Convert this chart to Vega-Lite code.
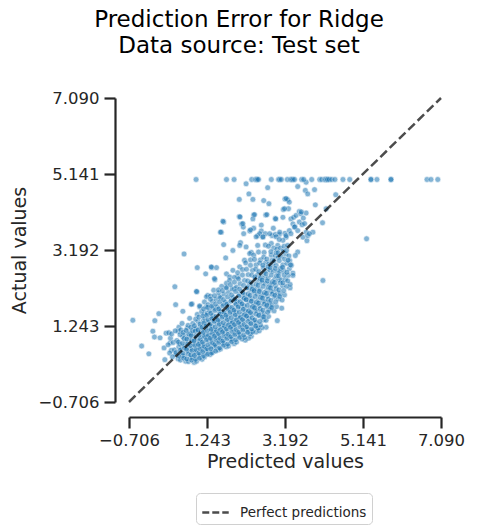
{
  "$schema": "https://vega.github.io/schema/vega-lite/v6.json",
  "description": "Prediction error plot for a Ridge model on the test set: predicted vs actual values with the perfect-prediction diagonal",
  "autosize": "none",
  "padding": {"left": 129, "top": 98, "right": 36, "bottom": 126},
  "width": 312,
  "height": 304,
  "background": "white",
  "title": {
    "text": ["Prediction Error for Ridge", "Data source: Test set"],
    "font": "DejaVu Sans",
    "fontSize": 23,
    "fontWeight": "normal",
    "color": "#000000",
    "anchor": "middle",
    "dx": -46,
    "lineHeight": 26,
    "offset": 32
  },
  "config": {
    "view": {"stroke": null},
    "axis": {
      "grid": false,
      "labelOverlap": false,
      "labelFlush": false,
      "domainColor": "#262626",
      "domainWidth": 2.2,
      "tickColor": "#262626",
      "tickWidth": 2.2,
      "tickSize": 11,
      "labelColor": "#262626",
      "labelFont": "DejaVu Sans",
      "labelFontSize": 16.5,
      "titleColor": "#262626",
      "titleFont": "DejaVu Sans",
      "titleFontSize": 19,
      "titleFontWeight": "normal"
    }
  },
  "layer": [
    {
      "data": {
        "values": [
          {"pred": -0.61, "act": 1.39}, {"pred": -0.39, "act": 0.73}, {"pred": -0.21, "act": 0.53}, {"pred": -0.11, "act": 1.11},
          {"pred": -0.06, "act": 1.38}, {"pred": 0.04, "act": 1.56}, {"pred": -0.07, "act": 0.96}, {"pred": 0.07, "act": 0.94},
          {"pred": 0.22, "act": 1.06}, {"pred": 0.29, "act": 1.07}, {"pred": 0.17, "act": 0.68}, {"pred": 0.32, "act": 0.81},
          {"pred": 0.19, "act": 0.38}, {"pred": 0.35, "act": 0.62}, {"pred": 0.46, "act": 0.51}, {"pred": 0.54, "act": 1.21},
          {"pred": 0.53, "act": 1.11}, {"pred": 0.44, "act": 2.25}, {"pred": 0.46, "act": 1.79}, {"pred": 0.64, "act": 1.62},
          {"pred": 0.67, "act": 3.09}, {"pred": 0.87, "act": 1.81}, {"pred": 0.99, "act": 2.12}, {"pred": 1.00, "act": 2.74},
          {"pred": 1.21, "act": 2.58}, {"pred": 1.26, "act": 2.03}, {"pred": 1.22, "act": 1.73}, {"pred": 1.36, "act": 2.74},
          {"pred": 1.48, "act": 2.74}, {"pred": 1.44, "act": 2.43}, {"pred": 1.73, "act": 2.58}, {"pred": 1.81, "act": 2.50},
          {"pred": 1.71, "act": 2.99}, {"pred": 1.60, "act": 3.65}, {"pred": 1.66, "act": 3.91}, {"pred": 1.66, "act": 3.33},
          {"pred": 2.08, "act": 3.38}, {"pred": 2.05, "act": 4.05}, {"pred": 2.05, "act": 4.49}, {"pred": 2.11, "act": 3.86},
          {"pred": 2.15, "act": 3.78}, {"pred": 2.16, "act": 3.61}, {"pred": 2.31, "act": 3.68}, {"pred": 2.22, "act": 4.89},
          {"pred": 2.29, "act": 4.63}, {"pred": 2.39, "act": 4.49}, {"pred": 2.41, "act": 4.09}, {"pred": 2.41, "act": 3.75},
          {"pred": 2.51, "act": 3.56}, {"pred": 2.60, "act": 3.83}, {"pred": 2.60, "act": 3.68}, {"pred": 2.64, "act": 3.52},
          {"pred": 2.66, "act": 4.46}, {"pred": 2.70, "act": 3.32}, {"pred": 2.70, "act": 3.61}, {"pred": 2.71, "act": 4.09},
          {"pred": 2.76, "act": 4.79}, {"pred": 2.79, "act": 4.38}, {"pred": 2.87, "act": 3.56}, {"pred": 2.90, "act": 3.75},
          {"pred": 2.95, "act": 4.00}, {"pred": 2.95, "act": 3.59}, {"pred": 3.05, "act": 3.59}, {"pred": 3.14, "act": 4.03},
          {"pred": 3.15, "act": 4.23}, {"pred": 3.19, "act": 4.50}, {"pred": 3.26, "act": 4.48}, {"pred": 3.19, "act": 3.62},
          {"pred": 3.22, "act": 3.52}, {"pred": 3.28, "act": 4.25}, {"pred": 3.30, "act": 3.69}, {"pred": 3.34, "act": 3.99},
          {"pred": 3.41, "act": 4.03}, {"pred": 3.39, "act": 3.86}, {"pred": 3.44, "act": 3.79}, {"pred": 3.47, "act": 4.08},
          {"pred": 3.51, "act": 4.82}, {"pred": 3.51, "act": 3.69}, {"pred": 3.55, "act": 3.91}, {"pred": 3.55, "act": 4.18},
          {"pred": 3.59, "act": 4.12}, {"pred": 3.62, "act": 3.84}, {"pred": 3.64, "act": 3.52}, {"pred": 3.65, "act": 4.01},
          {"pred": 3.70, "act": 4.72}, {"pred": 3.72, "act": 4.93}, {"pred": 3.72, "act": 4.14}, {"pred": 3.72, "act": 3.65},
          {"pred": 3.74, "act": 3.43}, {"pred": 3.76, "act": 4.63}, {"pred": 3.76, "act": 3.56}, {"pred": 3.89, "act": 3.65},
          {"pred": 3.93, "act": 4.74}, {"pred": 3.95, "act": 4.35}, {"pred": 4.13, "act": 3.89}, {"pred": 4.22, "act": 4.25},
          {"pred": 4.46, "act": 4.61}, {"pred": 3.30, "act": 2.71}, {"pred": 3.39, "act": 2.60}, {"pred": 3.31, "act": 2.92},
          {"pred": 3.51, "act": 3.14}, {"pred": 3.45, "act": 3.05}, {"pred": 3.32, "act": 2.22}, {"pred": 3.11, "act": 1.70},
          {"pred": 2.66, "act": 1.40}, {"pred": 2.39, "act": 1.13}, {"pred": 2.72, "act": 1.21}, {"pred": 3.00, "act": 1.38},
          {"pred": 2.80, "act": 1.65}, {"pred": 2.76, "act": 1.83}, {"pred": 2.51, "act": 1.19}, {"pred": 5.23, "act": 3.48},
          {"pred": 4.14, "act": 2.41}, {"pred": 3.35, "act": 2.80}, {"pred": 3.39, "act": 2.54},
          {"pred": 2.47, "act": 1.09}, {"pred": 2.55, "act": 1.12}, {"pred": 2.62, "act": 1.20}, {"pred": 2.35, "act": 0.98},
          {"pred": 2.28, "act": 0.93}, {"pred": 2.20, "act": 0.88},

          {"pred": 1.64, "act": 3.93}, {"pred": 2.07, "act": 4.04}, {"pred": 2.14, "act": 3.87}, {"pred": 1.58, "act": 3.65},
          {"pred": 2.39, "act": 3.99}, {"pred": 2.43, "act": 4.10}, {"pred": 2.33, "act": 3.71}, {"pred": 2.74, "act": 4.10},
          {"pred": 2.96, "act": 3.99}, {"pred": 2.56, "act": 3.61}, {"pred": 2.47, "act": 3.53}, {"pred": 2.64, "act": 3.53},
          {"pred": 2.81, "act": 3.61}, {"pred": 2.97, "act": 3.53}, {"pred": 3.06, "act": 3.65}, {"pred": 3.18, "act": 4.25},
          {"pred": 3.30, "act": 4.42}, {"pred": 3.22, "act": 4.51}, {"pred": 1.89, "act": 3.18}, {"pred": 2.06, "act": 3.31},
          {"pred": 2.22, "act": 3.27}, {"pred": 2.35, "act": 3.13}, {"pred": 2.51, "act": 3.31}, {"pred": 2.85, "act": 3.36},
          {"pred": 3.01, "act": 3.31}, {"pred": 3.14, "act": 3.44}, {"pred": 3.43, "act": 3.78}, {"pred": 3.60, "act": 4.17},
          {"pred": 3.68, "act": 3.87}, {"pred": 3.80, "act": 3.61},
          {"pred": 0.98, "act": 2.13}, {"pred": 1.35, "act": 2.76}, {"pred": 1.43, "act": 2.46}, {"pred": 0.85, "act": 1.80},
          {"pred": 1.06, "act": 1.73}, {"pred": 1.18, "act": 1.56}, {"pred": 1.39, "act": 1.73}, {"pred": 1.56, "act": 1.99},
          {"pred": 1.72, "act": 2.24}, {"pred": 1.93, "act": 2.20}, {"pred": 2.01, "act": 2.50}, {"pred": 1.89, "act": 2.67},
          {"pred": 2.06, "act": 2.76}, {"pred": 2.18, "act": 2.93}, {"pred": 2.31, "act": 3.10}, {"pred": 1.23, "act": 1.99},

          {"pred": 0.97, "act": 5.00}, {"pred": 1.73, "act": 5.00}, {"pred": 1.92, "act": 5.00}, {"pred": 2.36, "act": 5.00},
          {"pred": 2.45, "act": 5.00}, {"pred": 2.48, "act": 5.00}, {"pred": 2.50, "act": 5.00}, {"pred": 2.53, "act": 5.00},
          {"pred": 2.85, "act": 5.00}, {"pred": 3.03, "act": 5.00}, {"pred": 3.06, "act": 5.00}, {"pred": 3.10, "act": 5.00},
          {"pred": 3.25, "act": 5.00}, {"pred": 3.33, "act": 5.00}, {"pred": 3.36, "act": 5.00}, {"pred": 3.39, "act": 5.00},
          {"pred": 3.43, "act": 5.00}, {"pred": 3.61, "act": 5.00}, {"pred": 3.66, "act": 5.00}, {"pred": 3.86, "act": 5.00},
          {"pred": 4.06, "act": 5.00}, {"pred": 4.11, "act": 5.00}, {"pred": 4.18, "act": 5.00}, {"pred": 4.20, "act": 5.00},
          {"pred": 4.22, "act": 5.00}, {"pred": 4.25, "act": 5.00}, {"pred": 4.26, "act": 5.00}, {"pred": 4.30, "act": 5.00},
          {"pred": 4.36, "act": 5.00}, {"pred": 4.44, "act": 5.00}, {"pred": 4.64, "act": 5.00}, {"pred": 4.81, "act": 5.00},
          {"pred": 5.34, "act": 5.00}, {"pred": 5.34, "act": 5.00}, {"pred": 5.49, "act": 5.00}, {"pred": 5.84, "act": 5.00},
          {"pred": 5.84, "act": 5.00}, {"pred": 6.74, "act": 5.00}, {"pred": 6.84, "act": 5.00}, {"pred": 7.01, "act": 5.00},

          {"pred": 0.31, "act": 0.55}, {"pred": 0.27, "act": 0.76}, {"pred": 0.33, "act": 0.93},
          {"pred": 0.38, "act": 0.45}, {"pred": 0.43, "act": 0.63}, {"pred": 0.40, "act": 0.82}, {"pred": 0.36, "act": 1.04},
          {"pred": 0.52, "act": 0.40}, {"pred": 0.47, "act": 0.56}, {"pred": 0.54, "act": 0.71}, {"pred": 0.49, "act": 0.87}, {"pred": 0.45, "act": 1.12},
          {"pred": 0.58, "act": 0.37}, {"pred": 0.63, "act": 0.49}, {"pred": 0.61, "act": 0.66}, {"pred": 0.56, "act": 0.78}, {"pred": 0.64, "act": 0.96}, {"pred": 0.59, "act": 1.14}, {"pred": 0.62, "act": 1.31},
          {"pred": 0.71, "act": 0.34}, {"pred": 0.67, "act": 0.47}, {"pred": 0.74, "act": 0.61}, {"pred": 0.69, "act": 0.73}, {"pred": 0.72, "act": 0.86}, {"pred": 0.66, "act": 1.01}, {"pred": 0.75, "act": 1.19},
          {"pred": 0.78, "act": 0.33}, {"pred": 0.83, "act": 0.44}, {"pred": 0.80, "act": 0.59}, {"pred": 0.76, "act": 0.70}, {"pred": 0.84, "act": 0.83}, {"pred": 0.79, "act": 0.96}, {"pred": 0.82, "act": 1.07}, {"pred": 0.77, "act": 1.26}, {"pred": 0.81, "act": 1.44},
          {"pred": 0.92, "act": 0.31}, {"pred": 0.88, "act": 0.43}, {"pred": 0.94, "act": 0.54}, {"pred": 0.87, "act": 0.67}, {"pred": 0.91, "act": 0.79}, {"pred": 0.95, "act": 0.90}, {"pred": 0.86, "act": 1.03}, {"pred": 0.93, "act": 1.16}, {"pred": 0.89, "act": 1.31},
          {"pred": 0.98, "act": 0.34}, {"pred": 1.03, "act": 0.47}, {"pred": 0.96, "act": 0.59}, {"pred": 1.01, "act": 0.70}, {"pred": 1.05, "act": 0.81}, {"pred": 0.99, "act": 0.94}, {"pred": 1.04, "act": 1.06}, {"pred": 0.97, "act": 1.17}, {"pred": 1.02, "act": 1.36}, {"pred": 1.00, "act": 1.54},
          {"pred": 1.12, "act": 0.39}, {"pred": 1.07, "act": 0.52}, {"pred": 1.13, "act": 0.64}, {"pred": 1.09, "act": 0.74}, {"pred": 1.06, "act": 0.87}, {"pred": 1.14, "act": 0.97}, {"pred": 1.10, "act": 1.11}, {"pred": 1.08, "act": 1.23}, {"pred": 1.15, "act": 1.37}, {"pred": 1.11, "act": 1.61}, {"pred": 1.06, "act": 1.76},
          {"pred": 1.18, "act": 0.45}, {"pred": 1.23, "act": 0.56}, {"pred": 1.20, "act": 0.69}, {"pred": 1.16, "act": 0.79}, {"pred": 1.24, "act": 0.93}, {"pred": 1.21, "act": 1.03}, {"pred": 1.17, "act": 1.16}, {"pred": 1.22, "act": 1.27}, {"pred": 1.19, "act": 1.43}, {"pred": 1.25, "act": 1.57}, {"pred": 1.18, "act": 1.86},
          {"pred": 1.32, "act": 0.51}, {"pred": 1.27, "act": 0.63}, {"pred": 1.33, "act": 0.72}, {"pred": 1.29, "act": 0.86}, {"pred": 1.26, "act": 0.96}, {"pred": 1.34, "act": 1.09}, {"pred": 1.30, "act": 1.19}, {"pred": 1.28, "act": 1.34}, {"pred": 1.35, "act": 1.46}, {"pred": 1.31, "act": 1.63}, {"pred": 1.27, "act": 1.79}, {"pred": 1.33, "act": 2.01},
          {"pred": 1.38, "act": 0.57}, {"pred": 1.43, "act": 0.69}, {"pred": 1.40, "act": 0.79}, {"pred": 1.36, "act": 0.91}, {"pred": 1.44, "act": 1.01}, {"pred": 1.41, "act": 1.14}, {"pred": 1.37, "act": 1.24}, {"pred": 1.42, "act": 1.39}, {"pred": 1.39, "act": 1.51}, {"pred": 1.45, "act": 1.69}, {"pred": 1.38, "act": 1.87}, {"pred": 1.41, "act": 2.16},
          {"pred": 1.52, "act": 0.63}, {"pred": 1.47, "act": 0.72}, {"pred": 1.53, "act": 0.86}, {"pred": 1.49, "act": 0.95}, {"pred": 1.46, "act": 1.09}, {"pred": 1.54, "act": 1.18}, {"pred": 1.50, "act": 1.32}, {"pred": 1.48, "act": 1.43}, {"pred": 1.55, "act": 1.59}, {"pred": 1.51, "act": 1.73}, {"pred": 1.47, "act": 1.93}, {"pred": 1.53, "act": 2.09},
          {"pred": 1.58, "act": 0.65}, {"pred": 1.63, "act": 0.79}, {"pred": 1.60, "act": 0.89}, {"pred": 1.56, "act": 1.02}, {"pred": 1.64, "act": 1.12}, {"pred": 1.61, "act": 1.26}, {"pred": 1.57, "act": 1.36}, {"pred": 1.62, "act": 1.51}, {"pred": 1.59, "act": 1.63}, {"pred": 1.65, "act": 1.81}, {"pred": 1.58, "act": 1.97}, {"pred": 1.61, "act": 2.26},
          {"pred": 1.72, "act": 0.71}, {"pred": 1.67, "act": 0.81}, {"pred": 1.73, "act": 0.96}, {"pred": 1.69, "act": 1.06}, {"pred": 1.66, "act": 1.20}, {"pred": 1.74, "act": 1.30}, {"pred": 1.70, "act": 1.44}, {"pred": 1.68, "act": 1.55}, {"pred": 1.75, "act": 1.71}, {"pred": 1.71, "act": 1.85}, {"pred": 1.67, "act": 2.06}, {"pred": 1.73, "act": 2.34},
          {"pred": 1.78, "act": 0.73}, {"pred": 1.83, "act": 0.88}, {"pred": 1.80, "act": 0.99}, {"pred": 1.76, "act": 1.13}, {"pred": 1.84, "act": 1.23}, {"pred": 1.81, "act": 1.37}, {"pred": 1.77, "act": 1.48}, {"pred": 1.82, "act": 1.63}, {"pred": 1.79, "act": 1.75}, {"pred": 1.85, "act": 1.93}, {"pred": 1.78, "act": 2.11}, {"pred": 1.81, "act": 2.41},
          {"pred": 1.92, "act": 0.79}, {"pred": 1.87, "act": 0.91}, {"pred": 1.93, "act": 1.06}, {"pred": 1.89, "act": 1.17}, {"pred": 1.86, "act": 1.31}, {"pred": 1.94, "act": 1.41}, {"pred": 1.90, "act": 1.56}, {"pred": 1.88, "act": 1.67}, {"pred": 1.95, "act": 1.83}, {"pred": 1.91, "act": 1.97}, {"pred": 1.87, "act": 2.19}, {"pred": 1.93, "act": 2.49},
          {"pred": 1.98, "act": 0.83}, {"pred": 2.03, "act": 0.99}, {"pred": 2.00, "act": 1.10}, {"pred": 1.96, "act": 1.25}, {"pred": 2.04, "act": 1.35}, {"pred": 2.01, "act": 1.50}, {"pred": 1.97, "act": 1.61}, {"pred": 2.02, "act": 1.76}, {"pred": 1.99, "act": 1.88}, {"pred": 2.05, "act": 2.06}, {"pred": 1.98, "act": 2.24}, {"pred": 2.01, "act": 2.61},
          {"pred": 2.12, "act": 0.91}, {"pred": 2.07, "act": 1.03}, {"pred": 2.13, "act": 1.18}, {"pred": 2.09, "act": 1.29}, {"pred": 2.06, "act": 1.44}, {"pred": 2.14, "act": 1.55}, {"pred": 2.10, "act": 1.70}, {"pred": 2.08, "act": 1.82}, {"pred": 2.15, "act": 1.98}, {"pred": 2.11, "act": 2.12}, {"pred": 2.07, "act": 2.33}, {"pred": 2.13, "act": 2.69},
          {"pred": 2.18, "act": 0.95}, {"pred": 2.23, "act": 1.11}, {"pred": 2.20, "act": 1.23}, {"pred": 2.16, "act": 1.38}, {"pred": 2.24, "act": 1.49}, {"pred": 2.21, "act": 1.64}, {"pred": 2.17, "act": 1.76}, {"pred": 2.22, "act": 1.92}, {"pred": 2.19, "act": 2.04}, {"pred": 2.25, "act": 2.23}, {"pred": 2.18, "act": 2.41}, {"pred": 2.21, "act": 2.86},
          {"pred": 2.32, "act": 1.04}, {"pred": 2.27, "act": 1.16}, {"pred": 2.33, "act": 1.32}, {"pred": 2.29, "act": 1.44}, {"pred": 2.26, "act": 1.59}, {"pred": 2.34, "act": 1.71}, {"pred": 2.30, "act": 1.87}, {"pred": 2.28, "act": 1.99}, {"pred": 2.35, "act": 2.16}, {"pred": 2.31, "act": 2.31}, {"pred": 2.27, "act": 2.56}, {"pred": 2.33, "act": 2.94},
          {"pred": 2.38, "act": 1.09}, {"pred": 2.43, "act": 1.26}, {"pred": 2.40, "act": 1.39}, {"pred": 2.36, "act": 1.55}, {"pred": 2.44, "act": 1.66}, {"pred": 2.41, "act": 1.82}, {"pred": 2.37, "act": 1.94}, {"pred": 2.42, "act": 2.11}, {"pred": 2.39, "act": 2.25}, {"pred": 2.45, "act": 2.45}, {"pred": 2.38, "act": 2.67}, {"pred": 2.41, "act": 3.06},
          {"pred": 2.52, "act": 1.19}, {"pred": 2.47, "act": 1.33}, {"pred": 2.53, "act": 1.51}, {"pred": 2.49, "act": 1.63}, {"pred": 2.46, "act": 1.79}, {"pred": 2.54, "act": 1.91}, {"pred": 2.50, "act": 2.07}, {"pred": 2.48, "act": 2.20}, {"pred": 2.55, "act": 2.39}, {"pred": 2.51, "act": 2.56}, {"pred": 2.47, "act": 2.81}, {"pred": 2.53, "act": 3.14},
          {"pred": 2.58, "act": 1.27}, {"pred": 2.63, "act": 1.46}, {"pred": 2.60, "act": 1.60}, {"pred": 2.56, "act": 1.76}, {"pred": 2.64, "act": 1.89}, {"pred": 2.61, "act": 2.05}, {"pred": 2.57, "act": 2.18}, {"pred": 2.62, "act": 2.36}, {"pred": 2.59, "act": 2.51}, {"pred": 2.65, "act": 2.73}, {"pred": 2.58, "act": 2.94},
          {"pred": 2.72, "act": 1.39}, {"pred": 2.67, "act": 1.55}, {"pred": 2.73, "act": 1.73}, {"pred": 2.69, "act": 1.86}, {"pred": 2.66, "act": 2.03}, {"pred": 2.74, "act": 2.16}, {"pred": 2.70, "act": 2.34}, {"pred": 2.68, "act": 2.49}, {"pred": 2.75, "act": 2.69}, {"pred": 2.71, "act": 2.87}, {"pred": 2.67, "act": 3.13},
          {"pred": 2.78, "act": 1.49}, {"pred": 2.83, "act": 1.69}, {"pred": 2.80, "act": 1.83}, {"pred": 2.76, "act": 2.01}, {"pred": 2.84, "act": 2.14}, {"pred": 2.81, "act": 2.32}, {"pred": 2.77, "act": 2.47}, {"pred": 2.82, "act": 2.67}, {"pred": 2.79, "act": 2.84}, {"pred": 2.85, "act": 3.06}, {"pred": 2.78, "act": 3.29},
          {"pred": 2.92, "act": 1.63}, {"pred": 2.87, "act": 1.79}, {"pred": 2.93, "act": 1.98}, {"pred": 2.89, "act": 2.12}, {"pred": 2.86, "act": 2.30}, {"pred": 2.94, "act": 2.45}, {"pred": 2.90, "act": 2.65}, {"pred": 2.88, "act": 2.82}, {"pred": 2.95, "act": 3.04}, {"pred": 2.91, "act": 3.24},
          {"pred": 2.98, "act": 1.74}, {"pred": 3.03, "act": 1.94}, {"pred": 3.00, "act": 2.09}, {"pred": 2.96, "act": 2.28}, {"pred": 3.04, "act": 2.43}, {"pred": 3.01, "act": 2.63}, {"pred": 2.97, "act": 2.80}, {"pred": 3.02, "act": 3.01}, {"pred": 2.99, "act": 3.21}, {"pred": 3.05, "act": 3.46},
          {"pred": 3.12, "act": 1.91}, {"pred": 3.07, "act": 2.07}, {"pred": 3.13, "act": 2.27}, {"pred": 3.09, "act": 2.43}, {"pred": 3.06, "act": 2.63}, {"pred": 3.14, "act": 2.81}, {"pred": 3.10, "act": 3.03}, {"pred": 3.08, "act": 3.24},
          {"pred": 3.18, "act": 2.04}, {"pred": 3.23, "act": 2.26}, {"pred": 3.20, "act": 2.44}, {"pred": 3.16, "act": 2.66}, {"pred": 3.24, "act": 2.85}, {"pred": 3.21, "act": 3.09}, {"pred": 3.17, "act": 3.29}, {"pred": 3.22, "act": 3.56},
          {"pred": 3.32, "act": 2.31}, {"pred": 3.27, "act": 2.54}, {"pred": 3.33, "act": 2.81}, {"pred": 3.29, "act": 3.04}, {"pred": 3.26, "act": 3.31}, {"pred": 3.34, "act": 3.61},

          {"pred": 0.55, "act": 0.47}, {"pred": 0.57, "act": 0.62}, {"pred": 0.53, "act": 0.83}, {"pred": 0.57, "act": 1.02},
          {"pred": 0.66, "act": 0.42}, {"pred": 0.64, "act": 0.55}, {"pred": 0.68, "act": 0.68}, {"pred": 0.63, "act": 0.80}, {"pred": 0.67, "act": 0.92}, {"pred": 0.65, "act": 1.08},
          {"pred": 0.74, "act": 0.40}, {"pred": 0.77, "act": 0.53}, {"pred": 0.73, "act": 0.65}, {"pred": 0.76, "act": 0.78}, {"pred": 0.74, "act": 0.91}, {"pred": 0.78, "act": 1.04}, {"pred": 0.72, "act": 1.13},
          {"pred": 0.86, "act": 0.37}, {"pred": 0.84, "act": 0.50}, {"pred": 0.87, "act": 0.62}, {"pred": 0.83, "act": 0.74}, {"pred": 0.86, "act": 0.88}, {"pred": 0.85, "act": 1.00}, {"pred": 0.88, "act": 1.12}, {"pred": 0.84, "act": 1.21},
          {"pred": 0.96, "act": 0.39}, {"pred": 0.93, "act": 0.49}, {"pred": 0.97, "act": 0.64}, {"pred": 0.94, "act": 0.75}, {"pred": 0.92, "act": 0.86}, {"pred": 0.97, "act": 0.99}, {"pred": 0.95, "act": 1.11}, {"pred": 0.93, "act": 1.25}, {"pred": 0.96, "act": 1.42},
          {"pred": 1.06, "act": 0.42}, {"pred": 1.04, "act": 0.55}, {"pred": 1.07, "act": 0.66}, {"pred": 1.03, "act": 0.77}, {"pred": 1.08, "act": 0.91}, {"pred": 1.05, "act": 1.01}, {"pred": 1.02, "act": 1.14}, {"pred": 1.07, "act": 1.29}, {"pred": 1.04, "act": 1.47},
          {"pred": 1.16, "act": 0.48}, {"pred": 1.14, "act": 0.59}, {"pred": 1.17, "act": 0.72}, {"pred": 1.13, "act": 0.83}, {"pred": 1.18, "act": 0.98}, {"pred": 1.15, "act": 1.08}, {"pred": 1.12, "act": 1.21}, {"pred": 1.17, "act": 1.32}, {"pred": 1.14, "act": 1.50}, {"pred": 1.16, "act": 1.68},
          {"pred": 1.26, "act": 0.52}, {"pred": 1.24, "act": 0.66}, {"pred": 1.27, "act": 0.76}, {"pred": 1.23, "act": 0.89}, {"pred": 1.28, "act": 1.01}, {"pred": 1.25, "act": 1.13}, {"pred": 1.22, "act": 1.24}, {"pred": 1.27, "act": 1.40}, {"pred": 1.24, "act": 1.52}, {"pred": 1.26, "act": 1.72},
          {"pred": 1.36, "act": 0.55}, {"pred": 1.34, "act": 0.66}, {"pred": 1.37, "act": 0.82}, {"pred": 1.33, "act": 0.93}, {"pred": 1.38, "act": 1.05}, {"pred": 1.35, "act": 1.16}, {"pred": 1.32, "act": 1.29}, {"pred": 1.37, "act": 1.43}, {"pred": 1.34, "act": 1.57}, {"pred": 1.36, "act": 1.75}, {"pred": 1.33, "act": 1.93},
          {"pred": 1.46, "act": 0.60}, {"pred": 1.44, "act": 0.77}, {"pred": 1.47, "act": 0.89}, {"pred": 1.43, "act": 0.98}, {"pred": 1.48, "act": 1.12}, {"pred": 1.45, "act": 1.22}, {"pred": 1.42, "act": 1.36}, {"pred": 1.47, "act": 1.49}, {"pred": 1.44, "act": 1.64}, {"pred": 1.46, "act": 1.81}, {"pred": 1.43, "act": 2.02},
          {"pred": 1.56, "act": 0.68}, {"pred": 1.54, "act": 0.82}, {"pred": 1.57, "act": 0.93}, {"pred": 1.53, "act": 1.05}, {"pred": 1.58, "act": 1.15}, {"pred": 1.55, "act": 1.29}, {"pred": 1.52, "act": 1.40}, {"pred": 1.57, "act": 1.55}, {"pred": 1.54, "act": 1.68}, {"pred": 1.56, "act": 1.86}, {"pred": 1.53, "act": 2.17},
          {"pred": 1.66, "act": 0.75}, {"pred": 1.64, "act": 0.86}, {"pred": 1.67, "act": 0.99}, {"pred": 1.63, "act": 1.09}, {"pred": 1.68, "act": 1.24}, {"pred": 1.65, "act": 1.33}, {"pred": 1.62, "act": 1.47}, {"pred": 1.67, "act": 1.60}, {"pred": 1.64, "act": 1.76}, {"pred": 1.66, "act": 1.92}, {"pred": 1.63, "act": 2.15},
          {"pred": 1.76, "act": 0.78}, {"pred": 1.74, "act": 0.92}, {"pred": 1.77, "act": 1.03}, {"pred": 1.73, "act": 1.17}, {"pred": 1.78, "act": 1.27}, {"pred": 1.75, "act": 1.41}, {"pred": 1.72, "act": 1.52}, {"pred": 1.77, "act": 1.67}, {"pred": 1.74, "act": 1.80}, {"pred": 1.76, "act": 1.99}, {"pred": 1.73, "act": 2.22},
          {"pred": 1.86, "act": 0.84}, {"pred": 1.84, "act": 0.97}, {"pred": 1.87, "act": 1.10}, {"pred": 1.83, "act": 1.21}, {"pred": 1.88, "act": 1.34}, {"pred": 1.85, "act": 1.46}, {"pred": 1.82, "act": 1.59}, {"pred": 1.87, "act": 1.72}, {"pred": 1.84, "act": 1.88}, {"pred": 1.86, "act": 2.04}, {"pred": 1.83, "act": 2.30},
          {"pred": 1.96, "act": 0.89}, {"pred": 1.94, "act": 1.02}, {"pred": 1.97, "act": 1.15}, {"pred": 1.93, "act": 1.28}, {"pred": 1.98, "act": 1.40}, {"pred": 1.95, "act": 1.53}, {"pred": 1.92, "act": 1.65}, {"pred": 1.97, "act": 1.80}, {"pred": 1.94, "act": 1.93}, {"pred": 1.96, "act": 2.13}, {"pred": 1.93, "act": 2.37},
          {"pred": 2.06, "act": 0.95}, {"pred": 2.04, "act": 1.08}, {"pred": 2.07, "act": 1.22}, {"pred": 2.03, "act": 1.33}, {"pred": 2.08, "act": 1.47}, {"pred": 2.05, "act": 1.60}, {"pred": 2.02, "act": 1.73}, {"pred": 2.07, "act": 1.87}, {"pred": 2.04, "act": 2.01}, {"pred": 2.06, "act": 2.19}, {"pred": 2.03, "act": 2.45},
          {"pred": 2.16, "act": 1.01}, {"pred": 2.14, "act": 1.14}, {"pred": 2.17, "act": 1.28}, {"pred": 2.13, "act": 1.41}, {"pred": 2.18, "act": 1.53}, {"pred": 2.15, "act": 1.67}, {"pred": 2.12, "act": 1.81}, {"pred": 2.17, "act": 1.95}, {"pred": 2.14, "act": 2.10}, {"pred": 2.16, "act": 2.28}, {"pred": 2.13, "act": 2.55},
          {"pred": 2.26, "act": 1.08}, {"pred": 2.24, "act": 1.22}, {"pred": 2.27, "act": 1.36}, {"pred": 2.23, "act": 1.50}, {"pred": 2.28, "act": 1.63}, {"pred": 2.25, "act": 1.77}, {"pred": 2.22, "act": 1.92}, {"pred": 2.27, "act": 2.07}, {"pred": 2.24, "act": 2.22}, {"pred": 2.26, "act": 2.40}, {"pred": 2.23, "act": 2.70},
          {"pred": 2.36, "act": 1.17}, {"pred": 2.34, "act": 1.30}, {"pred": 2.37, "act": 1.45}, {"pred": 2.33, "act": 1.59}, {"pred": 2.38, "act": 1.74}, {"pred": 2.35, "act": 1.88}, {"pred": 2.32, "act": 2.03}, {"pred": 2.37, "act": 2.19}, {"pred": 2.34, "act": 2.36}, {"pred": 2.36, "act": 2.55}, {"pred": 2.33, "act": 2.80},
          {"pred": 2.46, "act": 1.24}, {"pred": 2.44, "act": 1.40}, {"pred": 2.47, "act": 1.55}, {"pred": 2.43, "act": 1.71}, {"pred": 2.48, "act": 1.86}, {"pred": 2.45, "act": 2.00}, {"pred": 2.42, "act": 2.15}, {"pred": 2.47, "act": 2.32}, {"pred": 2.44, "act": 2.50}, {"pred": 2.46, "act": 2.70}, {"pred": 2.43, "act": 2.95},
          {"pred": 2.56, "act": 1.36}, {"pred": 2.54, "act": 1.52}, {"pred": 2.57, "act": 1.69}, {"pred": 2.53, "act": 1.83}, {"pred": 2.58, "act": 1.98}, {"pred": 2.55, "act": 2.13}, {"pred": 2.52, "act": 2.29}, {"pred": 2.57, "act": 2.46}, {"pred": 2.54, "act": 2.64}, {"pred": 2.56, "act": 2.86},
          {"pred": 2.66, "act": 1.48}, {"pred": 2.64, "act": 1.65}, {"pred": 2.67, "act": 1.80}, {"pred": 2.63, "act": 1.96}, {"pred": 2.68, "act": 2.10}, {"pred": 2.65, "act": 2.26}, {"pred": 2.62, "act": 2.42}, {"pred": 2.67, "act": 2.61}, {"pred": 2.64, "act": 2.80}, {"pred": 2.66, "act": 3.01},
          {"pred": 2.76, "act": 1.60}, {"pred": 2.74, "act": 1.77}, {"pred": 2.77, "act": 1.93}, {"pred": 2.73, "act": 2.08}, {"pred": 2.78, "act": 2.24}, {"pred": 2.75, "act": 2.40}, {"pred": 2.72, "act": 2.58}, {"pred": 2.77, "act": 2.76}, {"pred": 2.74, "act": 2.96},
          {"pred": 2.86, "act": 1.72}, {"pred": 2.84, "act": 1.90}, {"pred": 2.87, "act": 2.06}, {"pred": 2.83, "act": 2.22}, {"pred": 2.88, "act": 2.38}, {"pred": 2.85, "act": 2.55}, {"pred": 2.82, "act": 2.74}, {"pred": 2.87, "act": 2.93}, {"pred": 2.84, "act": 3.15},
          {"pred": 2.96, "act": 1.86}, {"pred": 2.94, "act": 2.03}, {"pred": 2.97, "act": 2.20}, {"pred": 2.93, "act": 2.36}, {"pred": 2.98, "act": 2.53}, {"pred": 2.95, "act": 2.72}, {"pred": 2.92, "act": 2.92}, {"pred": 2.97, "act": 3.12},
          {"pred": 3.06, "act": 2.00}, {"pred": 3.04, "act": 2.17}, {"pred": 3.07, "act": 2.35}, {"pred": 3.03, "act": 2.53}, {"pred": 3.08, "act": 2.72}, {"pred": 3.05, "act": 2.92}, {"pred": 3.02, "act": 3.12},
          {"pred": 3.16, "act": 2.15}, {"pred": 3.14, "act": 2.35}, {"pred": 3.17, "act": 2.55}, {"pred": 3.13, "act": 2.75}, {"pred": 3.18, "act": 2.96}, {"pred": 3.15, "act": 3.16},
          {"pred": 3.26, "act": 2.40}, {"pred": 3.24, "act": 2.62}, {"pred": 3.27, "act": 2.93}, {"pred": 3.23, "act": 3.18}
        ]
      },
      "mark": {"type": "point", "filled": true, "shape": "circle", "size": 34, "color": "#1f77b4", "stroke": "white", "strokeWidth": 0.6, "opacity": 0.55},
      "encoding": {
        "x": {
          "field": "pred", "type": "quantitative", "title": "Predicted values",
          "scale": {"domain": [-0.706, 7.09], "nice": false, "zero": false},
          "axis": {"values": [-0.706, 1.243, 3.192, 5.141, 7.09], "format": ".3f", "offset": 15, "labelPadding": 4, "titlePadding": 4}
        },
        "y": {
          "field": "act", "type": "quantitative", "title": "Actual values",
          "scale": {"domain": [-0.706, 7.09], "nice": false, "zero": false},
          "axis": {"values": [-0.706, 1.243, 3.192, 5.141, 7.09], "format": ".3f", "offset": 14, "labelPadding": 5, "titlePadding": 8}
        }
      }
    },
    {
      "data": {
        "values": [
          {"pred": -0.706, "act": -0.706, "series": "Perfect predictions"},
          {"pred": 7.09, "act": 7.09, "series": "Perfect predictions"}
        ]
      },
      "mark": {"type": "line", "strokeDash": [9, 4], "strokeWidth": 2.5, "opacity": 0.7},
      "encoding": {
        "x": {"field": "pred", "type": "quantitative"},
        "y": {"field": "act", "type": "quantitative"},
        "stroke": {
          "field": "series", "type": "nominal",
          "scale": {"domain": ["Perfect predictions"], "range": ["#000000"]},
          "legend": {
            "title": null,
            "orient": "none",
            "legendX": 67,
            "legendY": 395,
            "symbolType": "stroke",
            "symbolSize": 700,
            "symbolStrokeWidth": 2.5,
            "symbolDash": [7, 3],
            "symbolOpacity": 0.7,
            "labelFont": "DejaVu Sans",
            "labelFontSize": 13.5,
            "labelColor": "#262626",
            "labelOffset": 10,
            "padding": 5,
            "strokeColor": "#d0d0d0",
            "fillColor": "white",
            "cornerRadius": 4
          }
        }
      }
    }
  ]
}
